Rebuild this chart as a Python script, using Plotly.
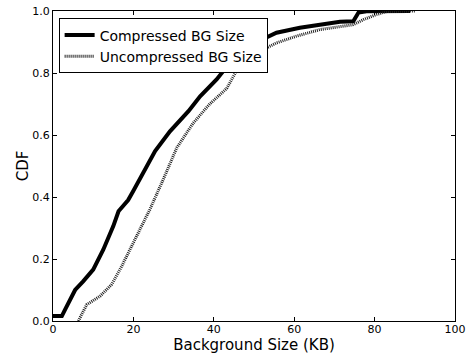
import plotly.graph_objects as go

comp_x = [0, 2.2, 3, 4.2, 5.5, 7.5, 10, 12.5, 15, 16.3, 18.7, 20, 22.5, 25.4, 29.1,
          33.7, 36.6, 38.2, 40.7, 44, 47, 50.2, 55.6, 61.4, 66.4, 71.4, 74.7, 76, 78, 88.8]
comp_y = [0.016, 0.016, 0.037, 0.069, 0.10, 0.128, 0.166, 0.23, 0.306, 0.354, 0.39, 0.42,
          0.478, 0.548, 0.612, 0.677, 0.725, 0.747, 0.779, 0.833, 0.87, 0.897, 0.93, 0.946,
          0.956, 0.965, 0.967, 0.995, 0.999, 1.0]

uncomp_x = [6.3, 8.4, 11.7, 14.6, 17.1, 20, 22.5, 24.1, 27.4, 30.8, 34.9, 39, 43.2, 45.6,
            48.1, 50.7, 55.6, 60.6, 66.4, 74.7, 77.2, 80.5, 83, 90]
uncomp_y = [0.0, 0.053, 0.08, 0.118, 0.177, 0.252, 0.317, 0.36, 0.456, 0.559, 0.639, 0.70,
            0.75, 0.806, 0.844, 0.865, 0.897, 0.919, 0.94, 0.956, 0.972, 0.989, 0.998, 1.0]

x_ticks = [0, 20, 40, 60, 80, 100]
y_ticks = [0.0, 0.2, 0.4, 0.6, 0.8, 1.0]

fig = go.Figure()
fig.add_trace(go.Scatter(x=comp_x, y=comp_y, mode="lines", name="Compressed BG Size",
                         line=dict(color="black", width=4)))
fig.add_trace(go.Scatter(x=uncomp_x, y=uncomp_y, mode="lines", name="Uncompressed BG Size",
                         line=dict(color="#222222", width=3, dash="1px,1px")))

fig.update_layout(
    width=467, height=354,
    margin=dict(l=53, r=12, t=11, b=33, autoexpand=False),
    plot_bgcolor="white", paper_bgcolor="white",
    font=dict(family="DejaVu Sans", size=11, color="black"),
    showlegend=True,
    legend=dict(x=0.014, y=0.976, xanchor="left", yanchor="top",
                bgcolor="white", bordercolor="black", borderwidth=1,
                font=dict(family="DejaVu Sans", size=14, color="black"),
                tracegroupgap=0),
)
fig.update_xaxes(range=[0, 100], tickmode="array", tickvals=x_ticks,
                 showgrid=False, zeroline=False, showline=True, linecolor="black",
                 linewidth=1, mirror="allticks", ticks="inside", ticklen=4,
                 tickcolor="black", automargin=False, ticklabelstandoff=-2,
                 title=dict(text="Background Size (KB)",
                            font=dict(family="DejaVu Sans", size=15), standoff=0),
                 tickfont=dict(size=11))
fig.update_yaxes(range=[0, 1], tickmode="array", tickvals=y_ticks, tickformat=".1f",
                 showgrid=False, zeroline=False, showline=True, linecolor="black",
                 linewidth=1, mirror="allticks", ticks="inside", ticklen=4,
                 tickcolor="black", automargin=False,
                 title=dict(text="CDF",
                            font=dict(family="DejaVu Sans", size=15), standoff=0),
                 tickfont=dict(size=11))

fig.write_html("out.html", config={"displayModeBar": False},
               post_script="document.body.style.margin='0';document.body.style.overflow='hidden';")
